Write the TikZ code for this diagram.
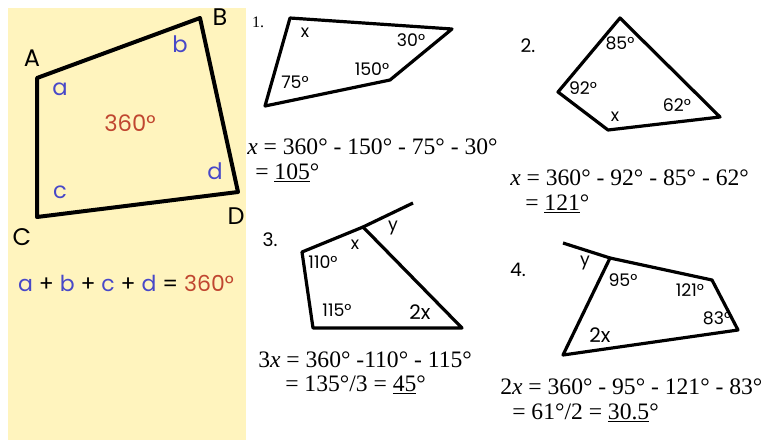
\documentclass[tikz,border=0pt]{standalone}
\usepackage{fontspec}
\usepackage{xcolor}
\setmainfont{Liberation Serif}
\newfontfamily\comic{Poppins}
\definecolor{panelyellow}{RGB}{255,244,190}
\definecolor{angblue}{RGB}{72,72,200}
\definecolor{angred}{RGB}{192,70,48}

\begin{document}
\begin{tikzpicture}[x=0.75pt,y=-0.75pt,
  quad/.style={line width=2.4pt,line join=round},
  lbl/.style={font=\comic\fontsize{13}{14}\selectfont,inner sep=0pt},
  big/.style={font=\comic\fontsize{17}{19}\selectfont,inner sep=0pt},
  eqn/.style={font=\fontsize{17.7}{19}\selectfont,inner sep=0pt,anchor=west}]
 \useasboundingbox (0,0) rectangle (766,440);
 \fill[panelyellow] (8,8) rectangle (246,440);
 % the general quadrilateral
 \coordinate (A) at (37,78);
 \coordinate (B) at (200,18);
 \coordinate (D) at (238,192);
 \coordinate (C) at (37,217);
 \draw[line width=3pt,line join=round] (A)--(B)--(D)--(C)--cycle;
 \node[big,font=\comic\fontsize{18}{19}\selectfont] (lA) at (32,58) {A};
 \node[big,font=\comic\fontsize{18}{19}\selectfont] (lB) at (220,17) {B};
 \node[big,font=\comic\fontsize{18}{19}\selectfont] (lC) at (22,237) {C};
 \node[big,font=\comic\fontsize{18}{19}\selectfont] (lD) at (236,216) {D};
 \node[big,angblue] (la) at (60,89) {a};
 \node[big,angblue] (lb) at (180,44) {b};
 \node[big,angblue] (lc) at (60,192) {c};
 \node[big,angblue] (ld) at (215,171) {d};
 \node[big,angred] (sum) at (130,123) {360°};
 \node[big,font=\comic\fontsize{16.5}{18}\selectfont] (total) at (126,283) {\textcolor{angblue}{a} + \textcolor{angblue}{b} + \textcolor{angblue}{c} + \textcolor{angblue}{d} = \textcolor{angred}{360°}};
 % 1.
 \draw[quad] (290,18)--(452,29)--(390,80)--(265,106)--cycle;
 \node[inner sep=0pt,font=\fontsize{12}{13}\selectfont] (n1) at (258,22) {1.};
 \node[lbl] (x1) at (305,33) {x};
 \node[lbl] (a30) at (411,40) {30°};
 \node[lbl] (a150) at (372,69) {150°};
 \node[lbl] (a75) at (295,82) {75°};
 \node[eqn] (e1a) at (247,147) {\textit{x} = 360° - 150° - 75° - 30°};
 \node[eqn] (e1b) at (255,173) {= \underline{105}°};
 % 2.
 \draw[quad] (620,18)--(720,117)--(608,130)--(558,92)--cycle;
 \node[lbl,font=\comic\fontsize{14}{15}\selectfont] (n2) at (528,46) {2.};
 \node[lbl] (a85) at (620,43) {85°};
 \node[lbl] (a92) at (583,88) {92°};
 \node[lbl] (a62) at (677,105) {62°};
 \node[lbl] (x2) at (615,117) {x};
 \node[eqn] (e2a) at (510,178) {\textit{x} = 360° - 92° - 85° - 62°};
 \node[eqn] (e2b) at (525,204) {= \underline{121}°};
 % 3.
 \coordinate (t3) at (363,227);
 \coordinate (r3) at (413,203);
 \draw[quad] (302,252)--(t3)--(462,328)--(313,328)--cycle;
 \draw[quad] (t3)--(r3);
 \node[lbl,font=\comic\fontsize{14}{15}\selectfont] (n3) at (270,240) {3.};
 \node[lbl] (y3) at (393,228) {y};
 \node[lbl] (x3) at (355,245) {x};
 \node[lbl] (a110) at (323,262) {110°};
 \node[lbl] (a115) at (337,310) {115°};
 \node[lbl,font=\comic\fontsize{15}{16}\selectfont] (xx3) at (420,312) {2x};
 \node[eqn] (e3a) at (258,360) {3\textit{x} = 360° -110° - 115°};
 \node[eqn] (e3b) at (285,385) {= 135°/3 = \underline{45}°};
 % 4.
 \coordinate (t4) at (610,258);
 \coordinate (l4) at (563,243);
 \draw[quad] (t4)--(712,280)--(738,330)--(563,355)--cycle;
 \draw[quad] (t4)--(l4);
 \node[lbl,font=\comic\fontsize{14}{15}\selectfont] (n4) at (518,270) {4.};
 \node[lbl] (y4) at (585,263) {y};
 \node[lbl] (a95) at (623,280) {95°};
 \node[lbl] (a121) at (690,290) {121°};
 \node[lbl] (a83) at (717,318) {83°};
 \node[lbl,font=\comic\fontsize{15}{16}\selectfont] (xx4) at (600,335) {2x};
 \node[eqn] (e4a) at (500,387) {2\textit{x} = 360° - 95° - 121° - 83°};
 \node[eqn] (e4b) at (512,413) {= 61°/2 = \underline{30.5}°};
\end{tikzpicture}
\end{document}
